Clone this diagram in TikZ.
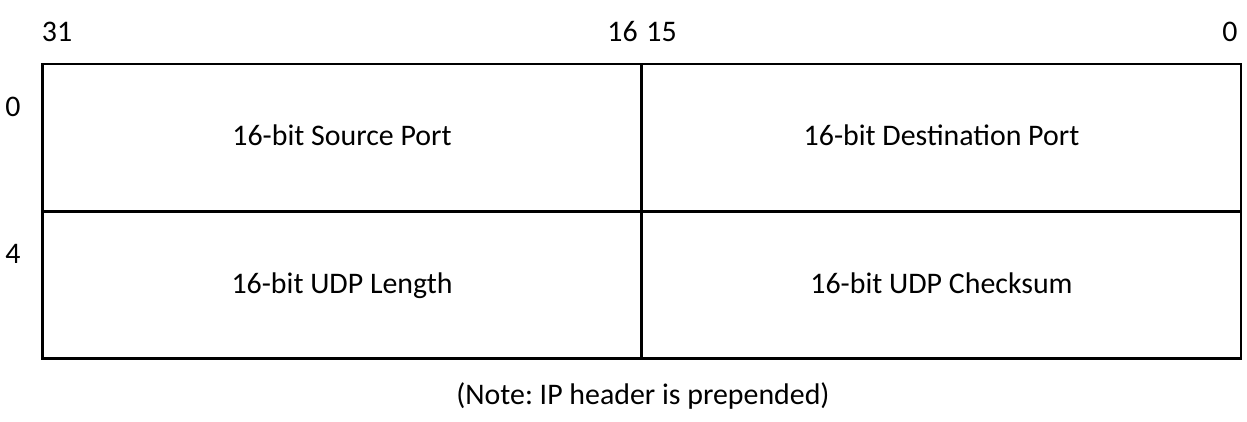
\documentclass[tikz,border=0pt]{standalone}
\usepackage{fontspec}
\setmainfont{Carlito}
\usepackage{tikz}
\usetikzlibrary{positioning}
\usetikzlibrary{calc}
\frenchspacing

\begin{document}
\begin{tikzpicture}[font=\fontsize{17}{20}\selectfont]
			\useasboundingbox (0,0) rectangle (24.94,-8.44);
			\begin{scope}[every node/.style={rectangle,draw=black,line width=1.6pt,minimum width=11.98cm,minimum height=2.94cm,text height=0.95em,text depth=0pt,inner sep=0pt}]
		    \node (SrcPort) at (6.84,-2.75) {16-bit Source Port};
		    \node (DstPort) at (18.83,-2.75) {16-bit Destination Port};
		    \node (UdpLen) at (6.84,-5.70) {16-bit UDP Length};
		    \node (UdpSum) at (18.83,-5.70) {16-bit UDP Checksum};
			\end{scope}
			\begin{scope}[every node/.style={inner sep=0pt,text height=0.63em,text depth=0pt}]
		    \node (bit31) at (1.14,-0.72) {31};
		    \node[anchor=east] (bit16) at (12.76,-0.72) {16};
		    \node[anchor=west] (bit15) at (12.92,-0.72) {15};
		    \node (bit0) at (24.60,-0.72) {0};
		    \node (row0) at (0.26,-2.22) {0};
		    \node (row4) at (0.26,-5.16) {4};
			\end{scope}
		    \node[below=0.44cm of UdpLen.south east,inner sep=0pt] (note) {(Note: IP header is prepended)};
    \end{tikzpicture}
\end{document}
